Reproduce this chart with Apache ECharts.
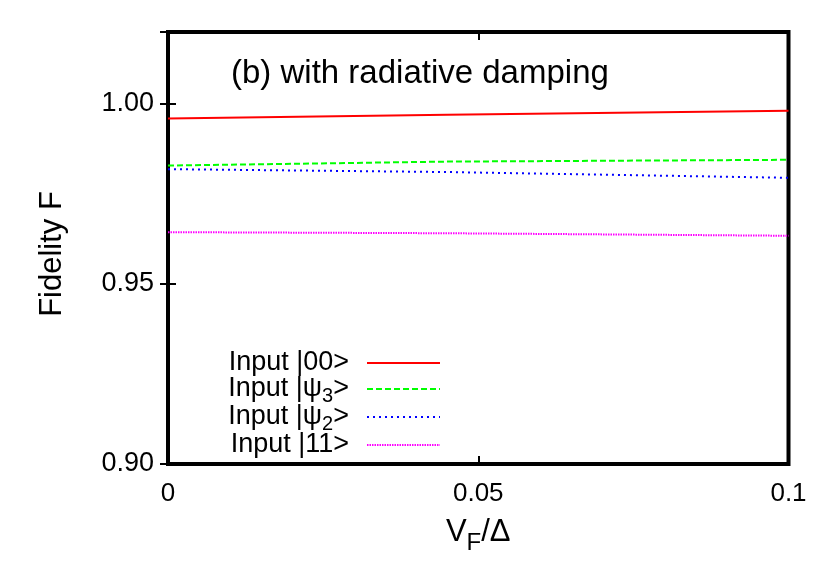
<!DOCTYPE html>
<html>
<head>
<meta charset="utf-8">
<script src="https://cdn.jsdelivr.net/npm/echarts@6/dist/echarts.min.js"></script>
<style>html,body{margin:0;padding:0;background:#fff}#c{width:830px;height:581px}</style>
</head>
<body>
<div id="c"></div>
<script>
// ---- data ----
var xValues = [0, 0.045, 0.1];
var fid00  = [0.9960, 0.9970, 0.9981];
var fidPsi3 = [0.9829, 0.9840, 0.9845];
var fidPsi2 = [0.9819, 0.9811, 0.9795];
var fid11  = [0.9644, 0.9641, 0.9634];
var seriesNames = ['Input |00>', 'Input |ψ3>', 'Input |ψ2>', 'Input |11>'];
var xTicks = [0, 0.05, 0.1];
var yTicks = [0.90, 0.95, 1.00];
var titleText = '(b) with radiative damping';

function pairs(ys){ return xValues.map(function(x,i){ return [x, ys[i]]; }); }
var FONT = '"Liberation Sans", Arial, sans-serif';

var chart = echarts.init(document.getElementById('c'), null, {renderer:'canvas'});
var tickStyle = {show:true, inside:true, length:8, lineStyle:{color:'#000', width:2}};
var option = {
  animation:false,
  backgroundColor:'#fff',
  textStyle:{fontFamily:FONT},
  title:{
    text:titleText, left:226, top:52,
    textStyle:{fontFamily:FONT, fontSize:33, fontWeight:'normal', color:'#000'}
  },
  grid:{left:168, right:41.5, top:32, bottom:117, show:true, borderColor:'#000', borderWidth:4, containLabel:false},
  legend:{
    orient:'vertical', right:389, top:348, padding:0, align:'right',
    itemWidth:73, itemHeight:14, itemGap:-4,
    data: seriesNames,
    itemStyle:{opacity:0},
    formatter:function(name){
      return name.replace(/ψ(\d)/, 'ψ{s|$1}');
    },
    textStyle:{fontFamily:FONT, fontSize:27, color:'#000', lineHeight:30, padding:[0,13,0,0],
      rich:{s:{fontFamily:FONT, fontSize:20, color:'#000', lineHeight:16, padding:[12,0,0,0], verticalAlign:'top'}}}
  },
  xAxis:[{
    type:'value', min:0, max:0.1, interval:0.05, position:'bottom',
    axisLine:{show:false}, splitLine:{show:false}, axisTick:tickStyle,
    axisLabel:{fontFamily:FONT, fontSize:26, color:'#000', margin:17,
      formatter:function(v){ var t = xTicks.filter(function(k){return Math.abs(k-v)<1e-9;}); return t.length? String(t[0]) : ''; }},
    name:'V{s|F}/Δ', nameLocation:'middle', nameGap:53,
    nameTextStyle:{fontFamily:FONT, fontSize:31, color:'#000', lineHeight:31,
      rich:{s:{fontFamily:FONT, fontSize:24, color:'#000', lineHeight:20, padding:[14,0,0,0], verticalAlign:'top'}}}
  },{
    type:'value', min:0, max:0.1, interval:0.05, position:'top',
    axisLine:{show:false}, splitLine:{show:false}, axisTick:tickStyle, axisLabel:{show:false}
  }],
  yAxis:[{
    type:'value', min:0.9, max:1.02, interval:0.05, position:'left',
    axisLine:{show:false}, splitLine:{show:false}, axisTick:tickStyle,
    axisLabel:{fontFamily:FONT, fontSize:27, color:'#000', margin:14,
      formatter:function(v){ var t = yTicks.filter(function(k){return Math.abs(k-v)<1e-9;}); return t.length? t[0].toFixed(2) : ''; }},
    name:'Fidelity F', nameLocation:'middle', nameGap:100,
    nameTextStyle:{fontFamily:FONT, fontSize:31, color:'#000', padding:[0,12,0,0]}
  },{
    type:'value', min:0.9, max:1.02, interval:0.05, position:'right',
    axisLine:{show:false}, splitLine:{show:false}, axisTick:tickStyle, axisLabel:{show:false}
  }],
  series:[
    {name:seriesNames[0], type:'line', data:pairs(fid00), showSymbol:false, symbol:'none', lineStyle:{color:'#ff0000', width:2, type:'solid'}, itemStyle:{color:'#ff0000'}},
    {name:seriesNames[1], type:'line', data:pairs(fidPsi3), showSymbol:false, symbol:'none', lineStyle:{color:'#00ff00', width:2, type:[6,3]}, itemStyle:{color:'#00ff00'}},
    {name:seriesNames[2], type:'line', data:pairs(fidPsi2), showSymbol:false, symbol:'none', lineStyle:{color:'#0000ff', width:2, type:[2,4]}, itemStyle:{color:'#0000ff'}},
    {name:seriesNames[3], type:'line', data:pairs(fid11), showSymbol:false, symbol:'none', lineStyle:{color:'#ff00ff', width:2, type:[1.5,1]}, itemStyle:{color:'#ff00ff'}}
  ]
};
chart.setOption(option);
</script>
</body>
</html>
